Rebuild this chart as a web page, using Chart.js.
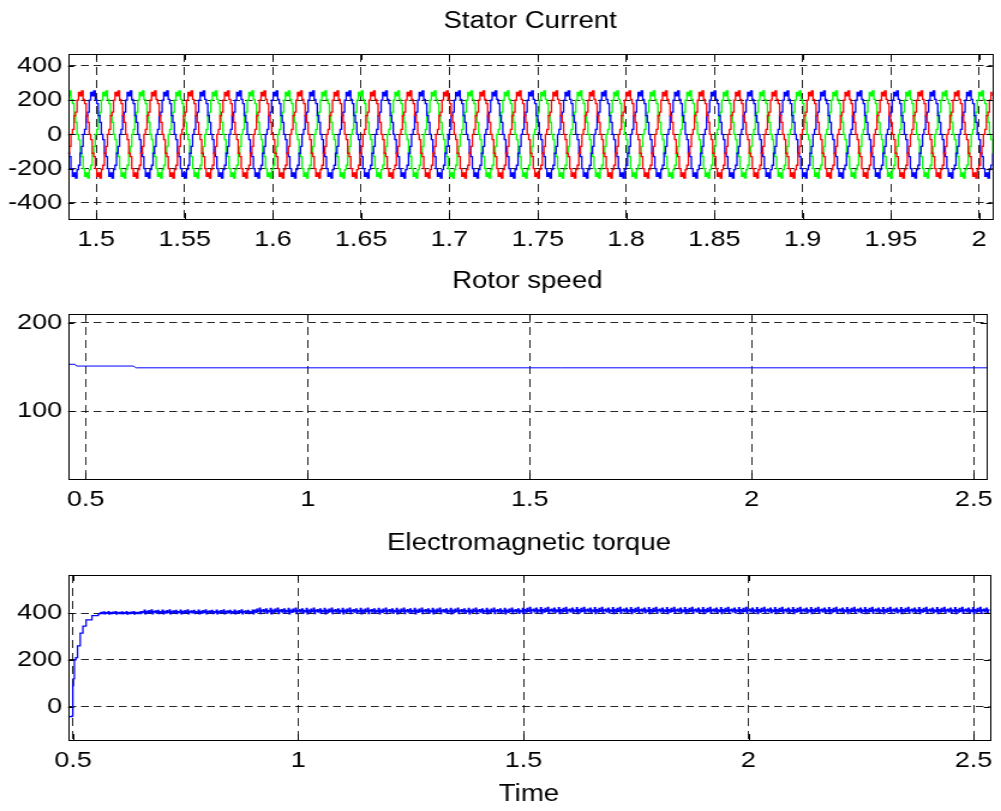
<!DOCTYPE html>
<html>
<head>
<meta charset="utf-8">
<script src="https://cdn.jsdelivr.net/npm/chart.js@4.4.0/dist/chart.umd.min.js"></script>
<style>
  body { margin: 0; background: #fff; width: 1001px; height: 811px; overflow: hidden; position: relative; }
  canvas { position: absolute; left: 0; }
</style>
</head>
<body>
<canvas id="current-chart" width="834" height="260" style="top:0;width:1001px;height:260px"></canvas>
<canvas id="speed-chart" width="834" height="260" style="top:260px;width:1001px;height:260px"></canvas>
<canvas id="torque-chart" width="834" height="290" style="top:521px;width:1001px;height:290px"></canvas>
<script>
const FONT = "'Liberation Sans', Arial, Helvetica, sans-serif";

// stator current: one measured cycle (A), sampled every 15 deg, tiled over the window
const currentCycle = [0, 30, 110, 130, 200, 245, 225, 255, 205, 180, 110, 70,
                      0, -30, -110, -130, -200, -245, -225, -255, -205, -180, -110, -70];
const cyclePeriod = 0.02067;
const phaseStart = { red: 1.5063, blue: 1.4925, green: 1.4994 };
const phaseColor = { red: '#ff0000', blue: '#0000ff', green: '#00ff00' };
const currentXTicks = [1.5, 1.55, 1.6, 1.65, 1.7, 1.75, 1.8, 1.85, 1.9, 1.95, 2];
const currentYTicks = [-400, -200, 0, 200, 400];

// rotor speed
const speedTime = [0.46, 0.476, 0.479, 0.607, 0.613, 2.53];
const speedValue = [153, 153, 151, 151, 149, 149];
const speedXTicks = [0.5, 1, 1.5, 2, 2.5];
const speedYTicks = [100, 200];

// electromagnetic torque
const torqueRiseTime = [0.489, 0.498, 0.4995, 0.501, 0.503, 0.506, 0.510, 0.516, 0.522, 0.529, 0.542, 0.556];
const torqueRiseValue = [-43, -40, 90, 120, 200, 210, 260, 315, 345, 372, 390, 398];
const torqueLevelStart = [0.56, 0.65, 0.9, 1.5];
const torqueLevel = [401, 405, 409, 411];
const torqueRippleScale = [0.5, 0.8, 1.1, 1.2];
const torqueRipple = [0, 6, -4, 2, 9, -8, 3, 0, -3, 11, -10, 4, 1, -5, 8, -2, 0, 12, -9, 3];
const torqueStep = 0.002;
const torqueEnd = 2.535;
const torqueXTicks = [0.5, 1, 1.5, 2, 2.5];
const torqueYTicks = [0, 200, 400];

function currentPoints(name, xmin, xmax) {
    const step = cyclePeriod / currentCycle.length;
    const n = currentCycle.length;
    const pts = [];
    let k = Math.floor((xmin - phaseStart[name]) / step) - 1;
    while (true) {
        const t = phaseStart[name] + k * step;
        pts.push({ x: t, y: currentCycle[((k % n) + n) % n] });
        if (t > xmax) break;
        k++;
    }
    return pts;
}

function torquePoints() {
    const pts = torqueRiseTime.map((t, i) => ({ x: t, y: torqueRiseValue[i] }));
    for (let i = 0; ; i++) {
        const t = torqueLevelStart[0] + i * torqueStep;
        if (t > torqueEnd) break;
        let j = 0;
        while (j + 1 < torqueLevelStart.length && torqueLevelStart[j + 1] <= t) j++;
        pts.push({ x: t, y: torqueLevel[j] + torqueRipple[i % torqueRipple.length] * torqueRippleScale[j] });
    }
    return pts;
}

const framePlugin = {
    id: 'frame',
    afterDraw(chart, args, opts) {
        const { ctx, chartArea: a, scales } = chart;
        ctx.save();
        ctx.strokeStyle = '#000';
        ctx.lineWidth = 1;
        ctx.setLineDash([]);
        ctx.strokeRect(Math.round(a.left) + 0.5, Math.round(a.top) + 0.5,
            Math.round(a.right - a.left), Math.round(a.bottom - a.top));
        ctx.beginPath();
        scales.x.ticks.forEach(t => {
            const x = Math.round(scales.x.getPixelForValue(t.value)) + 0.5;
            ctx.moveTo(x, a.bottom); ctx.lineTo(x, a.bottom - 6);
            ctx.moveTo(x, a.top); ctx.lineTo(x, a.top + 6);
        });
        scales.y.ticks.forEach(t => {
            const y = Math.round(scales.y.getPixelForValue(t.value)) + 0.5;
            ctx.moveTo(a.left, y); ctx.lineTo(a.left + 5, y);
            ctx.moveTo(a.right, y); ctx.lineTo(a.right - 5, y);
        });
        ctx.stroke();
        ctx.fillStyle = '#000';
        ctx.textAlign = 'center';
        ctx.textBaseline = 'middle';
        ctx.font = `23px ${FONT}`;
        const cx = (a.left + a.right) / 2;
        ctx.fillText(opts.title, cx, opts.titleY);
        if (opts.xTitle) ctx.fillText(opts.xTitle, cx, opts.xTitleY);
        ctx.restore();
    }
};

function axis(min, max, ticks, extra) {
    return Object.assign({
        type: 'linear',
        min, max,
        afterBuildTicks: s => { s.ticks = ticks.map(v => ({ value: v })); },
        ticks: {
            autoSkip: false,
            maxRotation: 0,
            color: '#000',
            font: { family: FONT, size: 22.5 },
            callback: v => String(v)
        },
        grid: { color: 'rgba(0,0,0,0.85)', lineWidth: 1, drawTicks: false },
        border: { display: false }
    }, extra);
}

function makeChart(id, cfg) {
    const canvas = document.getElementById(id);
    const h = canvas.height;
    const x = axis(cfg.xmin, cfg.xmax, cfg.xTicks, { afterFit: s => { s.height = h - 219; } });
    x.ticks.padding = 7;
    x.border = { display: false, dash: [8, 5] };
    const y = axis(cfg.ymin, cfg.ymax, cfg.yTicks, { afterFit: s => { s.width = 56.7; } });
    y.ticks.padding = 5;
    y.border = { display: false, dash: [6.5, 4] };
    return new Chart(canvas, {
        type: 'line',
        data: { datasets: cfg.datasets },
        options: {
            responsive: false,
            animation: false,
            devicePixelRatio: 1,
            parsing: false,
            layout: { padding: { top: 54, right: 7.3, left: 0, bottom: 0 } },
            plugins: {
                legend: { display: false },
                tooltip: { enabled: false },
                frame: { title: cfg.title, titleY: cfg.titleY, xTitle: cfg.xTitle, xTitleY: cfg.xTitleY }
            },
            elements: { point: { radius: 0 }, line: { borderWidth: 1, tension: 0 } },
            scales: { x, y }
        },
        plugins: [framePlugin]
    });
}

const currentXMin = 1.484, currentXMax = 2.0074;

makeChart('current-chart', {
    title: 'Stator Current', titleY: 22,
    xmin: currentXMin, xmax: currentXMax, xTicks: currentXTicks,
    ymin: -494, ymax: 470, yTicks: currentYTicks,
    datasets: Object.keys(phaseStart).map(name => ({
        data: currentPoints(name, currentXMin, currentXMax),
        borderColor: phaseColor[name],
        borderWidth: 1.3,
        stepped: true
    }))
});

makeChart('speed-chart', {
    title: 'Rotor speed', titleY: 22,
    xmin: 0.46, xmax: 2.529, xTicks: speedXTicks,
    ymin: 23, ymax: 210, yTicks: speedYTicks,
    datasets: [{
        data: speedTime.map((t, i) => ({ x: t, y: speedValue[i] })),
        borderColor: '#0000ff'
    }]
});

makeChart('torque-chart', {
    title: 'Electromagnetic torque', titleY: 23,
    xTitle: 'Time', xTitleY: 274,
    xmin: 0.489, xmax: 2.536, xTicks: torqueXTicks,
    ymin: -143, ymax: 564, yTicks: torqueYTicks,
    datasets: [{
        data: torquePoints(),
        borderColor: '#0000ff',
        borderWidth: 1.3,
        stepped: true
    }]
});
</script>
</body>
</html>
